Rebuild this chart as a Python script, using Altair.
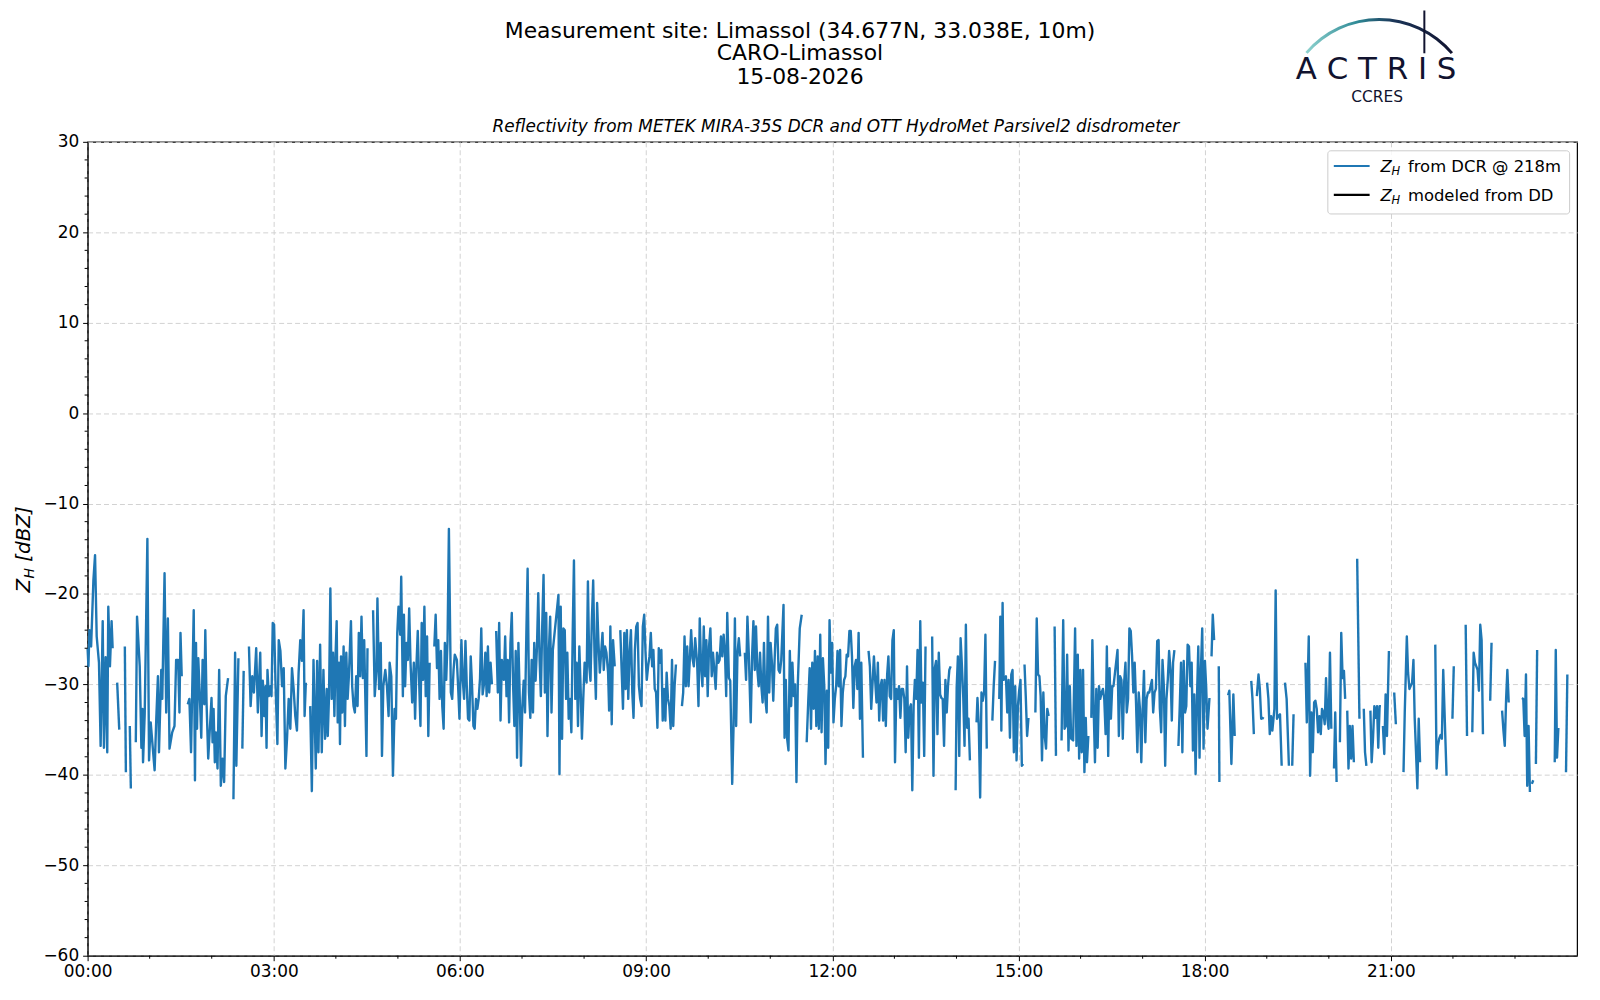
import altair as alt
import pandas as pd

# ---------------- data: (minutes after 00:00, Z_H in dBZ); None = data gap ----------------
dcr_00_04 = [
    (0.0, -26.0), (0.8, -28.0), (1.8, -24.0), (3.4, -25.8), (5.6, -18.5), (7.2, -15.7), (8.8, -24.7),
    (11.0, -27.6), (12.6, -36.8), (14.6, -23.0), (15.8, -37.0), (17.4, -27.0), (19.0, -37.5), (20.0, -21.4),
    (21.6, -28.0), (23.2, -23.0), (24.2, -26.0), None,
    (28.6, -29.8), (30.6, -35.0), None,
    (36.0, -25.8), (37.0, -39.7), None,
    (40.8, -34.6), (41.8, -41.5), None,
    (46.6, -36.4), (47.8, -22.5), (50.4, -28.0), (52.0, -37.0), (53.0, -32.7), (53.6, -38.6), (55.2, -33.3),
    (57.8, -13.9), (59.4, -38.4), (61.0, -34.2), (64.8, -39.5), (66.4, -33.8), (68.0, -29.1), (69.0, -37.5),
    (71.2, -28.4), (72.2, -31.6), (74.4, -17.7), (76.0, -33.1), (77.6, -22.7), (79.2, -37.1), (81.8, -35.3),
    (84.0, -34.6), (85.6, -27.3), (87.5, -27.3), (88.8, -33.1), (89.8, -24.3), (91.0, -29.1), None,
    (96.8, -32.2), (98.4, -31.6), (100.0, -37.5), (102.6, -21.8), (103.8, -40.6), (104.8, -25.4), (105.8, -34.9),
    (107.0, -27.1), (108.6, -31.6), (109.9, -35.9), (111.2, -27.3), (112.8, -32.2), (113.8, -24.0), (115.0, -32.0),
    (116.6, -38.2), (118.2, -34.9), (119.8, -31.5), (120.8, -36.4), (121.8, -32.7), (123.0, -38.6), (124.0, -35.3),
    (125.6, -39.3), (127.2, -28.4), (128.8, -41.2), (130.4, -38.2), (132.0, -40.8), (133.6, -31.3), (135.8, -29.3), None,
    (141.0, -42.7), (142.6, -26.5), (143.8, -39.0), (145.8, -27.1), None,
    (149.6, -37.1), (150.9, -28.5), None,
    (156.0, -25.8), (157.6, -32.4), (159.2, -29.1), (160.8, -30.9), (163.0, -26.0), (164.6, -33.1), (166.9, -26.5),
    (168.2, -35.7), (169.4, -29.6), (170.7, -33.5), (172.0, -30.2), (173.0, -37.0), (173.9, -28.4), (175.2, -31.3),
    (176.8, -30.2), (177.8, -31.3), (179.0, -23.2), (180.3, -23.4), (181.6, -29.6), (183.5, -36.6), (184.8, -25.1),
    (186.4, -26.3), (188.0, -30.2), (189.6, -28.2), (191.2, -39.3), (192.8, -36.0), (194.4, -31.6), (196.0, -34.9),
    (197.6, -28.2), (199.2, -30.5), (200.8, -33.5), (202.4, -35.1), (204.0, -28.7), (205.6, -25.1), (207.2, -27.4),
    (208.8, -21.8), (209.8, -33.5), (211.0, -29.8), None,
    (215.2, -32.4), (216.8, -41.8), (218.4, -27.3), (220.6, -39.3), (221.9, -27.4), (223.2, -37.5), (224.8, -25.6),
    (226.4, -37.5), (228.0, -28.4), (229.6, -36.0), (231.2, -30.5), (232.2, -35.7),
]

dcr_04_07 = [
    (233.4, -31.3), (234.7, -19.4), (236.0, -31.6), (237.3, -26.5), (238.6, -33.5), (239.8, -26.5), (240.8, -23.0),
    (241.8, -34.2), (243.0, -27.6), (244.0, -36.6), (245.0, -26.9), (246.2, -33.1), (247.5, -25.8), (248.8, -34.6),
    (250.1, -26.5), (251.4, -31.6), (252.6, -29.1), (254.6, -23.0), (255.8, -30.2), (257.1, -32.4), (258.4, -33.1),
    (259.7, -29.1), (261.0, -32.4), (262.2, -24.3), (263.5, -29.1), (264.8, -22.5), (266.1, -29.3), (267.4, -25.1),
    (268.6, -32.0), (269.6, -37.9), (270.6, -26.0), None,
    (276.0, -21.8), (277.6, -31.3), (279.2, -28.5), (280.2, -20.5), (281.8, -30.5), (283.4, -25.4), (284.6, -37.9),
    (285.9, -30.2), (287.8, -28.4), (289.4, -30.2), (291.0, -33.5), (292.0, -27.6), (293.6, -29.1), (295.2, -40.1),
    (296.8, -32.7), (298.1, -33.8), (299.4, -24.3), (300.6, -21.4), (302.2, -24.5), (303.2, -18.1), (304.8, -31.3),
    (305.8, -22.3), (307.0, -30.2), (308.3, -25.4), (309.6, -27.3), (310.9, -21.6), (312.2, -27.6), (313.8, -32.0),
    (315.4, -27.6), (316.6, -33.8), (317.9, -28.0), (319.2, -24.1), (320.5, -29.6), (321.8, -34.6), (323.0, -23.2),
    (324.3, -29.5), (325.6, -21.4), (326.9, -31.3), (328.2, -24.7), (329.4, -35.7), (330.7, -27.6), None,
    (335.2, -25.8), (336.5, -22.3), (337.8, -28.2), (339.0, -25.1), (340.3, -31.6), (341.6, -26.3), (342.9, -32.4),
    (344.2, -34.9), (345.4, -25.4), (346.7, -29.5), (348.0, -25.1), (349.3, -12.8), (351.2, -30.9), (352.5, -31.6),
    (353.8, -28.4), (355.0, -26.7), (357.0, -27.3), (358.2, -30.2), (359.5, -33.8), (361.4, -25.1), (362.7, -29.5),
    (364.0, -31.6), (365.3, -25.2), (366.6, -30.2), (367.8, -33.8), (369.1, -34.0), (370.4, -26.9), (371.7, -30.2),
    (373.0, -34.6), (374.2, -34.9), (375.5, -31.6), (376.8, -32.7), (378.1, -31.6), (379.4, -29.3), (380.6, -23.8),
    (381.9, -31.1), (383.2, -30.0), (384.5, -26.5), (385.8, -31.3), (387.0, -25.8), (388.3, -30.9), (389.6, -27.6),
    (390.9, -30.0), None,
    (395.0, -24.1), (396.6, -30.9), (397.9, -23.2), (399.2, -34.0), (400.5, -27.3), (402.4, -29.5), (403.7, -24.7),
    (405.0, -31.3), (406.2, -27.3), (407.5, -34.2), (408.8, -25.4), (410.1, -22.1), (411.4, -30.2), (412.6, -34.6),
    (413.9, -26.3), (415.2, -38.1), (416.5, -25.4), (417.8, -31.6), (419.0, -39.0), (420.3, -32.4), (421.6, -29.6),
    (422.9, -33.1), (424.2, -24.3), (425.4, -17.2), (426.7, -30.9), (428.0, -33.7), (429.3, -27.3), (430.6, -33.1),
    (431.8, -25.4), (433.1, -29.6), (434.4, -26.0), (435.7, -19.9), (437.0, -27.3), (438.2, -31.3), (439.5, -23.6),
    (440.8, -17.9), (442.1, -30.9), (443.4, -22.1), (444.6, -35.7), (445.9, -26.5), (447.2, -22.5), (448.5, -33.1),
    (449.8, -26.2),
]

dcr_07_11 = [
    (455.2, -20.1), (456.2, -39.9), (457.4, -21.4), (458.7, -36.0), (460.0, -23.8), (461.3, -24.0), (462.6, -31.6),
    (463.8, -26.5), (465.1, -33.8), (466.4, -31.6), (467.7, -35.3), (469.0, -24.3), (470.2, -16.3), (471.5, -31.6),
    (472.8, -27.6), (474.1, -34.6), (475.4, -25.8), (476.6, -30.2), (477.9, -36.0), (479.2, -31.6), (480.5, -27.6),
    (482.4, -29.8), (483.7, -18.6), (485.0, -28.0), (486.2, -29.6), (487.5, -22.9), (488.8, -18.5), (490.1, -26.9),
    (491.4, -31.6), (492.6, -21.0), (493.9, -25.4), (495.2, -28.7), (496.5, -26.5), (497.8, -24.3), (499.0, -28.4),
    (500.3, -25.8), (501.6, -26.5), (503.2, -28.7), (504.2, -32.9), (505.4, -23.6), (506.7, -34.4), (508.0, -25.1),
    (509.6, -28.0), None,
    (515.0, -24.0), (516.3, -28.4), (517.6, -32.7), (518.9, -24.3), (520.2, -30.5), (521.4, -24.0), (522.7, -31.6),
    (524.0, -26.5), (525.3, -24.0), (526.6, -30.9), (527.8, -33.7), (529.1, -26.2), (530.4, -23.6), (531.7, -23.2),
    (533.0, -30.2), (534.2, -31.6), (535.5, -32.4), (536.8, -23.6), (538.1, -22.3), (539.4, -26.5), (540.6, -29.5),
    (541.9, -28.0), (543.2, -26.9), (544.5, -24.3), (545.8, -28.0), (547.0, -26.2), (548.3, -30.5), (549.6, -30.9),
    (550.9, -34.8), (552.2, -26.0), (553.4, -27.6), (554.7, -26.2), (556.0, -34.0), (557.3, -30.5), (558.6, -34.0),
    (559.8, -28.7), (561.1, -31.6), (562.4, -32.4), (563.7, -34.9), (565.0, -27.3), (566.2, -34.6), (567.5, -30.2),
    (568.8, -27.8), None,
    (574.6, -32.4), (575.8, -30.9), (577.1, -24.7), (578.4, -30.2), (579.7, -25.8), (581.0, -30.2), (582.2, -27.3),
    (583.5, -24.0), (584.8, -27.1), (586.1, -28.0), (587.4, -24.9), (589.3, -27.6), (590.6, -32.4), (591.8, -22.7),
    (593.1, -28.0), (594.4, -30.2), (595.7, -23.6), (597.0, -29.1), (598.2, -25.1), (599.5, -31.3), (600.8, -25.8),
    (602.1, -23.8), (603.4, -29.1), (604.6, -26.5), (605.9, -28.4), (607.2, -30.5), (608.5, -26.5), (609.8, -27.6),
    (611.0, -27.3), (612.3, -24.7), (613.6, -26.9), (614.9, -24.5), (616.2, -26.5), (617.4, -31.3), (618.4, -22.1),
    (620.0, -29.3), (621.3, -29.6), (623.2, -41.0), (624.5, -34.6), (625.8, -22.7), (627.0, -34.6), (628.3, -26.5),
    (629.6, -24.9), (630.9, -26.9), None,
    (635.4, -26.5), (636.6, -29.5), (637.9, -22.5), (639.2, -26.5), (641.1, -34.2), (642.4, -26.9), (643.7, -23.0),
    (645.0, -28.4), (646.2, -23.6), (647.5, -28.4), (648.8, -30.2), (650.1, -26.5), (651.4, -30.2), (652.6, -32.0),
    (653.9, -25.4), (655.2, -31.6), (656.5, -33.1), (657.8, -22.5), (659.0, -30.9), (660.3, -25.4), (661.6, -27.6),
    (662.9, -31.8), (664.2, -27.3), (665.4, -23.8), (666.7, -23.4), (668.0, -28.4), (669.3, -28.7), (670.6, -27.3),
    (672.8, -21.2), (673.8, -35.9), (675.0, -29.5), (676.3, -36.0), (677.6, -37.3), (678.9, -26.3), (680.2, -32.4),
    (681.4, -27.6), (682.7, -31.3), (684.0, -30.0), (685.3, -40.8), (686.6, -30.0), (688.5, -23.8), (690.4, -22.3), None,
]

dcr_11_15 = [
    (695.2, -36.4), (696.8, -31.6), (698.1, -28.2), (699.4, -34.9), (700.6, -27.6), (701.9, -32.7), (703.2, -26.3),
    (704.5, -34.6), (705.8, -26.9), (707.0, -34.9), (708.3, -24.5), (709.6, -35.3), (710.9, -27.1), (712.2, -30.2),
    (713.4, -38.8), (714.7, -30.7), (716.0, -37.0), (717.3, -22.9), (718.6, -28.7), (719.8, -25.4), (721.1, -34.2),
    (722.4, -31.6), (723.7, -30.2), (725.0, -26.3), (726.2, -30.2), (727.5, -26.2), (728.8, -34.6), (730.1, -30.9),
    (731.4, -29.5), (732.6, -29.1), (733.9, -26.7), (735.2, -26.9), (736.5, -24.1), (737.8, -24.1), (739.0, -26.9),
    (740.3, -32.6), (741.6, -28.0), (742.9, -27.3), (744.2, -30.5), (745.4, -24.3), (746.7, -33.8), (748.0, -27.6),
    (749.6, -38.1), None,
    (755.0, -26.3), (756.3, -28.0), (757.6, -32.7), (758.9, -29.8), (760.2, -26.9), (761.4, -29.5), (762.7, -32.0),
    (764.0, -27.6), (765.3, -34.0), (766.6, -30.2), (767.8, -29.5), (769.1, -34.0), (770.4, -29.5), (771.7, -34.6),
    (773.0, -28.9), (774.2, -26.9), (775.5, -31.3), (776.8, -31.6), (778.1, -25.1), (779.4, -24.0), (780.6, -38.6),
    (781.9, -30.5), (783.2, -31.6), (784.5, -30.2), (785.8, -33.7), (787.0, -30.5), (788.3, -30.5), (789.6, -31.6),
    (790.9, -37.5), (792.2, -28.0), (793.4, -35.9), (794.7, -32.7), (796.0, -32.2), (797.3, -41.7), (798.6, -32.4),
    (799.8, -29.5), (801.1, -31.6), (802.4, -26.2), (803.7, -38.1), (805.0, -23.0), (806.2, -32.0), (807.5, -29.8),
    (808.8, -37.9), (810.1, -25.8), None,
    (816.5, -24.7), (817.8, -40.1), (819.0, -28.2), (820.3, -27.4), (821.6, -35.5), (822.9, -26.5), (824.2, -31.1),
    (825.4, -31.5), (826.7, -31.6), (828.0, -36.8), (829.3, -29.5), (830.6, -33.1), (831.8, -30.2), (833.1, -28.4),
    (834.4, -28.0), None,
    (839.2, -41.7), (840.2, -30.4), (841.4, -26.9), (842.7, -37.9), (844.0, -24.9), (845.3, -28.0), (846.6, -31.5),
    (847.8, -36.8), (849.1, -23.4), (850.4, -34.8), (851.7, -33.8), (853.0, -38.4), None,
    (859.4, -34.2), (860.3, -31.5), (861.6, -34.6), (862.9, -42.5), (864.2, -30.9), (865.4, -31.8), (866.7, -30.9),
    (868.0, -24.5), (869.3, -37.1), None,
    (874.7, -34.0), (876.0, -30.2), (877.3, -27.4), None,
    (881.4, -31.6), (882.4, -22.5), (883.4, -35.1), (884.6, -21.0), (885.6, -29.5), (887.8, -29.1), (889.1, -33.1),
    (890.4, -29.5), (891.7, -35.9), (893.0, -28.9), (894.2, -28.4), (895.5, -37.5), (896.8, -30.2), (898.1, -38.4),
    (899.4, -32.4), (900.6, -30.7), (901.9, -29.5), (903.2, -39.0), (904.5, -38.8), None,
    (905.8, -27.8), (907.0, -31.3), (908.3, -35.7), (909.6, -33.7), None,
    (916.3, -33.1), (917.6, -22.7), (918.9, -28.9), (920.2, -29.1), (921.4, -31.3), (922.7, -38.4), (924.0, -30.9),
    (925.3, -35.7), (926.6, -37.1), (927.8, -32.7), (929.1, -33.5), None,
]

dcr_15_19 = [
    (934.9, -23.6), (936.2, -37.9), None,
    (941.6, -36.2), (943.2, -22.9), (944.5, -34.9), (945.8, -34.6), (947.0, -26.7), (948.3, -37.3), (949.6, -30.2),
    (950.9, -36.0), (952.8, -36.2), (954.7, -23.8), (956.0, -36.8), (957.3, -26.7), (958.6, -38.2), (959.8, -28.4),
    (961.1, -37.5), (962.4, -28.4), (963.7, -39.7), (965.0, -33.7), (966.2, -38.6), (967.5, -35.7), None,
    (970.4, -33.7), (971.4, -25.1), (972.6, -32.4), (973.9, -38.6), (975.2, -30.5), (976.5, -37.0), (977.8, -30.2),
    (979.0, -31.6), (980.3, -30.9), (981.6, -30.5), (982.9, -31.6), (984.2, -35.5), (985.4, -25.8), (986.7, -37.9),
    (988.0, -28.2), (989.3, -33.8), (990.6, -30.2), (991.8, -30.2), (995.7, -26.2), (997.0, -35.7), (998.2, -29.1),
    (999.5, -29.5), (1000.8, -36.0), (1002.1, -29.8), (1003.4, -27.6), (1004.6, -33.1), (1005.9, -31.6),
    (1007.2, -23.8), (1008.5, -24.1), (1009.8, -26.9), (1011.0, -30.9), (1012.3, -27.6), (1013.6, -32.0),
    (1014.9, -37.5), (1016.2, -30.9), (1017.4, -32.7), (1018.7, -38.6), (1020.0, -32.7), (1021.3, -28.5),
    (1022.6, -36.4), (1023.8, -31.6), (1025.1, -30.9), (1026.4, -30.9), (1027.7, -30.2), (1029.0, -29.5),
    (1030.2, -33.1), (1031.5, -30.9), (1032.8, -30.5), (1034.1, -25.2), (1035.4, -25.1), (1036.6, -32.6),
    (1037.9, -35.3), (1039.2, -27.3), (1040.5, -30.2), (1041.8, -39.0), (1043.0, -31.6), (1044.3, -29.5),
    (1045.6, -26.3), (1046.9, -28.4), (1048.2, -34.0), (1049.4, -27.6), (1050.7, -26.2), None,
    (1054.6, -36.8), (1055.8, -32.7), (1057.1, -27.6), (1058.4, -37.5), (1059.7, -27.4), (1061.0, -33.1),
    (1062.2, -32.4), (1063.5, -25.6), (1064.8, -25.8), (1066.1, -30.2), (1067.4, -27.6), (1068.6, -37.3),
    (1069.9, -31.1), (1071.2, -39.9), (1072.5, -31.6), (1073.8, -25.8), (1075.0, -38.1), (1076.3, -28.4),
    (1077.6, -23.8), (1078.9, -37.1), (1080.2, -27.4), (1081.4, -30.2), (1082.7, -34.9), (1084.6, -31.5), None,
    (1086.6, -26.9), (1087.8, -22.3), (1089.1, -25.1), None,
    (1093.6, -28.0), (1094.2, -40.8), None,
    (1102.6, -31.2), (1103.8, -30.7), (1105.8, -38.8), (1107.7, -31.1), (1109.0, -35.7), None,
    (1125.0, -29.6), (1126.2, -31.6), (1127.5, -35.5), None,
    (1130.4, -31.3), (1132.0, -28.9), (1133.3, -30.5), (1134.6, -33.8), (1135.8, -33.7), (1137.1, -33.8), None,
    (1140.3, -29.8), (1141.6, -31.6), (1142.9, -35.5), (1144.2, -33.5), (1145.4, -35.1), (1147.4, -32.7),
    (1148.6, -19.6), (1149.9, -33.8), (1151.2, -33.5), (1152.8, -33.3), (1154.4, -39.0), None,
]

dcr_19_24 = [
    (1157.6, -29.8), (1159.2, -31.6), (1161.4, -39.0), None,
    (1164.6, -39.0), (1165.9, -33.3), None,
    (1177.4, -27.6), (1178.7, -34.2), (1180.6, -24.7), (1181.9, -40.1), (1183.2, -33.1), (1184.5, -37.5),
    (1185.8, -32.0), (1187.0, -31.8), (1188.3, -32.7), (1189.6, -35.3), (1190.9, -33.5), (1192.2, -35.5),
    (1193.4, -32.7), (1194.7, -33.1), (1196.0, -34.4), (1197.3, -29.3), (1198.6, -33.8), (1199.8, -34.9),
    (1201.1, -26.5), (1202.4, -34.9), None,
    (1205.0, -39.3), (1206.2, -33.1), (1207.5, -40.8), None,
    (1210.7, -36.4), (1212.0, -24.3), (1213.3, -29.3), (1214.6, -28.5), (1215.8, -31.6), None,
    (1217.8, -32.9), (1219.0, -39.3), (1220.3, -34.6), (1221.6, -38.2), (1222.9, -34.6), (1224.2, -38.6), None,
    (1227.4, -16.1), (1229.6, -33.8), None,
    (1233.8, -32.7), (1235.0, -37.5), (1236.3, -39.0), None,
    (1240.2, -32.9), (1241.4, -38.6), (1242.7, -36.0), (1244.0, -32.4), (1245.3, -33.7), (1246.6, -32.4),
    (1247.8, -37.0), (1249.1, -32.4), (1250.4, -32.4), None,
    (1252.3, -34.6), (1253.6, -37.7), (1254.9, -31.1), (1256.2, -35.7), (1258.1, -26.3), None,
    (1263.2, -30.9), (1264.8, -34.4), None,
    (1272.2, -39.7), (1273.4, -33.1), (1275.4, -24.7), (1276.6, -28.7), (1277.9, -30.5), (1280.5, -29.8),
    (1281.8, -27.3), (1283.0, -33.7), (1284.3, -37.5), (1285.6, -41.5), (1286.9, -33.8), (1288.2, -38.6), None,
    (1302.9, -25.6), (1304.2, -39.3), (1305.4, -36.8), (1306.7, -36.0), (1308.0, -35.6), (1309.3, -36.0),
    (1310.6, -28.4), (1313.8, -40.1), None,
    (1319.5, -33.8), (1320.8, -28.0), None,
    (1332.3, -23.4), (1333.6, -35.7), None,
    (1338.7, -35.3), (1340.0, -26.5), (1341.3, -27.6), (1342.6, -28.0), (1343.8, -28.4), (1345.1, -30.7),
    (1346.4, -23.4), (1347.7, -25.1), (1349.0, -35.5), None,
    (1356.0, -31.8), (1357.3, -25.4), None,
    (1367.5, -32.9), (1368.8, -35.1), (1370.1, -36.8), (1371.4, -31.6), (1372.6, -28.4), (1373.9, -32.0), None,
    (1386.7, -31.5), (1388.0, -31.6), (1389.3, -35.7), (1390.6, -28.9), (1391.8, -41.2), (1393.1, -34.6),
    (1394.4, -41.9), None,
    (1396.3, -41.0), (1397.6, -40.6), None,
    (1400.2, -38.8), (1401.4, -26.2), None,
    (1418.4, -38.6), (1419.4, -26.2), (1420.6, -38.1), (1421.9, -34.8), None,
    (1429.3, -39.7), (1430.6, -28.9),
]

legend_rest = ["from DCR @ 218m", "modeled from DD"]
legend_colors = ["#1f77b4", "#000000"]
hour_ticks = [0, 3, 6, 9, 12, 15, 18, 21]
z_ticks = [-60, -50, -40, -30, -20, -10, 0, 10, 20, 30]

# ---------------- build table ----------------
rows = []
seg = 0
for block in [dcr_00_04, dcr_04_07, dcr_07_11, dcr_11_15, dcr_15_19, dcr_19_24]:
    for item in block:
        if item is None:
            seg += 1
            continue
        rows.append({"t": item[0], "z": item[1], "seg": seg})
df = pd.DataFrame(rows)

minor_x = pd.DataFrame({"t": [h * 60 for h in range(1, 24) if h % 3 != 0]})
minor_y = pd.DataFrame({"z": [v for v in range(-58, 30, 2) if v % 10 != 0]})

W, H = 1497, 818
FONT = "DejaVu Sans"
NAVY = "#11132f"

xscale = alt.Scale(domain=[0, 1440], nice=False, zero=False)
yscale = alt.Scale(domain=[-60, 30], nice=False, zero=False)

xaxis = alt.Axis(
    values=[h * 60 for h in hour_ticks],
    labelExpr="(datum.value < 600 ? '0' : '') + floor(datum.value / 60) + ':00'",
    title=None, grid=True, gridDash=[5, 3], gridColor="#d2d2d2", gridWidth=1,
    tickSize=5, tickColor="black", tickWidth=1, labelPadding=3, labelFlush=False,
    labelFont=FONT, labelFontSize=17, labelColor="black",
    domainColor="black", domainWidth=1,
)
yaxis = alt.Axis(
    values=z_ticks,
    labelExpr="replace(format(datum.value, 'd'), '-', '\u2212')",
    title=None,
    grid=True, gridDash=[5, 3], gridColor="#d2d2d2", gridWidth=1,
    tickSize=5, tickColor="black", tickWidth=1, labelPadding=4, labelFlush=False,
    labelFont=FONT, labelFontSize=17, labelColor="black",
    domainColor="black", domainWidth=1,
)

xenc = alt.X("t:Q", scale=xscale, axis=xaxis)
yenc = alt.Y("z:Q", scale=yscale, axis=yaxis)

line = alt.Chart(df).mark_line(strokeWidth=2.4, strokeJoin="round", color="#1f77b4").encode(
    x=xenc, y=yenc, detail="seg:N", order="t:Q",
)

minor_x_ticks = alt.Chart(minor_x).mark_rule(color="black", strokeWidth=1).encode(
    x=xenc, y=alt.value(H), y2=alt.value(H + 3)
)
minor_y_ticks = alt.Chart(minor_y).mark_rule(color="black", strokeWidth=1).encode(
    y=yenc, x=alt.value(-3), x2=alt.value(0)
)

one = pd.DataFrame({"k": [0]})


def text_layer(txt, x, y, size, color="black", style="normal", baseline="middle",
               align="center", angle=0):
    return alt.Chart(one).mark_text(
        text=txt, font=FONT, fontSize=size, color=color, fontStyle=style,
        align=align, baseline=baseline, angle=angle,
    ).encode(x=alt.value(x), y=alt.value(y))


title1 = text_layer("Measurement site: Limassol (34.677N, 33.038E, 10m)", 716, -111, 22)
title2 = text_layer("CARO-Limassol", 716, -89, 22)
title3 = text_layer("15-08-2026", 716, -65.5, 22)
subtitle = text_layer(
    "Reflectivity from METEK MIRA-35S DCR and OTT HydroMet Parsivel2 disdrometer",
    752, -15, 17, style="italic",
)

# y-axis title  Z_H [dBZ]  (rotated, with real subscript)
ytitle_z = text_layer("Z", -58, 453, 20, style="italic", baseline="alphabetic", align="left", angle=270)
ytitle_h = text_layer("H", -54, 439, 14, style="italic", baseline="alphabetic", align="left", angle=270)
ytitle_u = text_layer("[dBZ]", -58, 422, 20, style="italic", baseline="alphabetic", align="left", angle=270)

# logo
logo_word = text_layer("A C T R I S", 1295, -63, 31, color=NAVY, baseline="alphabetic")
logo_sub = text_layer("CCRES", 1296, -40.5, 15.5, color=NAVY, baseline="alphabetic")
logo_arc = alt.Chart(one).mark_arc(
    fill=alt.LinearGradient(
        gradient="linear",
        stops=[
            alt.GradientStop(color="#8fd3cf", offset=0),
            alt.GradientStop(color="#2f8a96", offset=0.35),
            alt.GradientStop(color="#1b3558", offset=0.6),
            alt.GradientStop(color=NAVY, offset=1),
        ],
        x1=0, x2=1, y1=0, y2=0,
    ),
).encode(
    x=alt.value(1298), y=alt.value(-27),
    theta=alt.value(5.42), theta2=alt.value(7.15),
    radius=alt.value(97.5), radius2=alt.value(94.5),
)
logo_bar = alt.Chart(one).mark_rule(color=NAVY, strokeWidth=2).encode(
    x=alt.value(1343.5), y=alt.value(-132), y2=alt.value(-89)
)

# legend (drawn as marks so that Z_H gets a real subscript)
LX = 1246.5
leg_box = alt.Chart(one).mark_rect(
    fill="white", fillOpacity=0.85, stroke="#cccccc", strokeWidth=1, cornerRadius=3
).encode(x=alt.value(LX), x2=alt.value(LX + 243), y=alt.value(9), y2=alt.value(72.5))
leg_layers = [leg_box]
for i, (rest, col) in enumerate(zip(legend_rest, legend_colors)):
    yc = 24.3 + 29 * i
    leg_layers.append(
        alt.Chart(one).mark_rule(color=col, strokeWidth=2.2).encode(
            x=alt.value(LX + 6), x2=alt.value(LX + 42), y=alt.value(yc)
        )
    )
    leg_layers.append(text_layer("Z", LX + 53, yc + 6, 16.5, style="italic", baseline="alphabetic", align="left"))
    leg_layers.append(text_layer("H", LX + 64, yc + 9.5, 11.5, style="italic", baseline="alphabetic", align="left"))
    leg_layers.append(text_layer(rest, LX + 80.5, yc + 6, 16.5, baseline="alphabetic", align="left"))

chart = alt.layer(
    line, minor_x_ticks, minor_y_ticks,
    title1, title2, title3, subtitle, ytitle_z, ytitle_h, ytitle_u,
    logo_arc, logo_bar, logo_word, logo_sub, *leg_layers,
).properties(
    width=W, height=H,
    padding={"left": 80, "top": 132, "right": 15, "bottom": 42},
    autosize=alt.AutoSizeParams(type="none"),
    background="white",
).configure_view(
    stroke="black", strokeWidth=1.2
)

chart.save("out.html", embed_options={"renderer": "svg", "actions": False})
